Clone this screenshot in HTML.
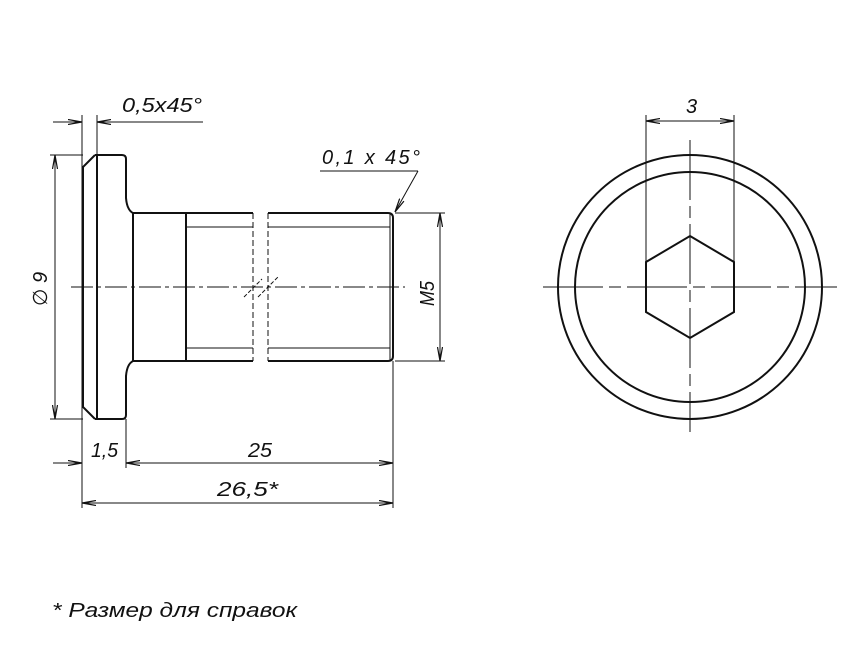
<!DOCTYPE html>
<html><head><meta charset="utf-8"><style>
html,body{margin:0;padding:0;background:#fff;}
svg{display:block}
text{font-family:"Liberation Sans","DejaVu Sans",sans-serif;font-style:italic;fill:#111;}
</style></head><body>
<svg width="866" height="650" viewBox="0 0 866 650" xmlns="http://www.w3.org/2000/svg">
<defs>
<marker id="a" viewBox="0 0 14 6" refX="14" refY="3" markerWidth="14" markerHeight="6" orient="auto-start-reverse" markerUnits="userSpaceOnUse">
<path d="M0,0.5 L14,3 L0,5.5" fill="none" stroke="#111" stroke-width="1.2"/>
</marker>
</defs>
<g fill="none" stroke="#111" stroke-width="2">
<path d="M95,155 L122,155 Q126,155 126,159 L126,198 Q127,210 133,213 L253,213"/>
<path d="M95,419 L122,419 Q126,419 126,415 L126,376 Q127,364 133,361 L253,361"/>
<path d="M268,213 L388,213 Q393,213 393,218 L393,356 Q393,361 388,361 L268,361"/>
<path d="M95,155 L83,167 L83,407 L95,419"/>
<line x1="97" y1="155" x2="97" y2="419"/>
<line x1="133" y1="213" x2="133" y2="361"/>
<line x1="186" y1="213" x2="186" y2="361"/>
</g>
<g fill="none" stroke="#111" stroke-width="1">
<line x1="390" y1="213" x2="390" y2="361"/>
<line x1="186" y1="227" x2="253" y2="227"/><line x1="268" y1="227" x2="390" y2="227"/>
<line x1="186" y1="348" x2="253" y2="348"/><line x1="268" y1="348" x2="390" y2="348"/>
<g stroke-dasharray="6,3"><line x1="253" y1="213" x2="253" y2="361"/><line x1="268" y1="213" x2="268" y2="361"/></g>
<line x1="244" y1="297" x2="262" y2="279" stroke-dasharray="4,2"/>
<line x1="258" y1="297" x2="278" y2="277" stroke-dasharray="4,2"/>
<line x1="71" y1="287" x2="405" y2="287" stroke-dasharray="22,4,4,4"/>
<line x1="82" y1="115" x2="82" y2="508"/>
<line x1="97" y1="115" x2="97" y2="155"/>
<line x1="126" y1="419" x2="126" y2="468"/>
<line x1="393" y1="361" x2="393" y2="508"/>
<line x1="50" y1="155" x2="83" y2="155"/>
<line x1="50" y1="419" x2="83" y2="419"/>
<line x1="395" y1="213" x2="445" y2="213"/>
<line x1="395" y1="361" x2="445" y2="361"/>
<line x1="53" y1="122" x2="82" y2="122" marker-end="url(#a)"/>
<line x1="203" y1="122" x2="97" y2="122" marker-end="url(#a)"/>
<line x1="55" y1="155" x2="55" y2="419" marker-start="url(#a)" marker-end="url(#a)"/>
<line x1="440" y1="213" x2="440" y2="361" marker-start="url(#a)" marker-end="url(#a)"/>
<line x1="53" y1="463" x2="82" y2="463" marker-end="url(#a)"/>
<line x1="126" y1="463" x2="393" y2="463" marker-start="url(#a)" marker-end="url(#a)"/>
<line x1="82" y1="503" x2="393" y2="503" marker-start="url(#a)" marker-end="url(#a)"/>
<polyline points="320,171 418,171"/>
<line x1="418" y1="171" x2="395" y2="212" marker-end="url(#a)"/>
<circle cx="690" cy="287" r="132" stroke-width="2"/>
<circle cx="690" cy="287" r="115" stroke-width="2"/>
<polygon points="690,236 734,262 734,312 690,338 646,312 646,262" stroke-width="2"/>
<line x1="543" y1="287" x2="837" y2="287" stroke-dasharray="60,6,12,6"/>
<line x1="690" y1="140" x2="690" y2="432" stroke-dasharray="60,6,12,6"/>
<line x1="646" y1="115" x2="646" y2="262"/>
<line x1="734" y1="115" x2="734" y2="262"/>
<line x1="646" y1="121" x2="734" y2="121" marker-start="url(#a)" marker-end="url(#a)"/>
</g>
<text x="122" y="112" font-size="20" textLength="80" lengthAdjust="spacingAndGlyphs">0,5x45°</text>
<text x="322" y="164" font-size="20" textLength="98" lengthAdjust="spacing">0,1 x 45°</text>
<text x="91" y="457" font-size="20" textLength="27" lengthAdjust="spacingAndGlyphs">1,5</text>
<text x="248" y="457" font-size="20" textLength="24" lengthAdjust="spacingAndGlyphs">25</text>
<text x="217" y="496" font-size="20" textLength="61" lengthAdjust="spacingAndGlyphs">26,5*</text>
<text x="686" y="113" font-size="20">3</text>
<text transform="translate(434,306) rotate(-90)" font-size="20" textLength="25" lengthAdjust="spacingAndGlyphs">M5</text>
<text transform="translate(47,306) rotate(-90)" font-size="20">∅ 9</text>
<text x="52" y="617" font-size="20" textLength="245" lengthAdjust="spacingAndGlyphs">* Размер для справок</text>
</svg>
</body></html>
